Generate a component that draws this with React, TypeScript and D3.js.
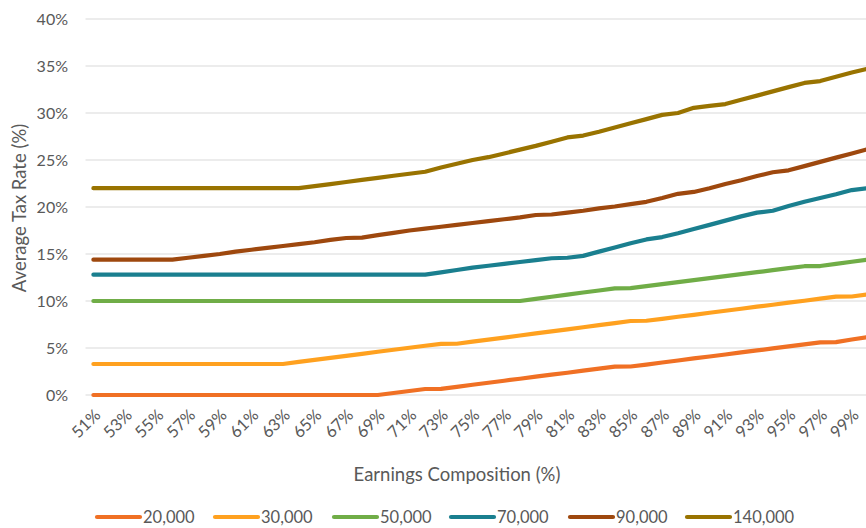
import React, { useEffect, useRef } from 'react';
import * as d3 from 'd3';

// earnings composition (%), one point per category
const categories = [
    51, 52, 53, 54, 55, 56, 57, 58, 59, 60, 61, 62, 63, 64, 65, 66, 67, 68, 69, 70,
    71, 72, 73, 74, 75, 76, 77, 78, 79, 80, 81, 82, 83, 84, 85, 86, 87, 88, 89, 90,
    91, 92, 93, 94, 95, 96, 97, 98, 99, 100,
];

// average tax rate (%) per income level
const s20000 = [
    0, 0, 0, 0, 0, 0, 0, 0, 0, 0, 0, 0, 0, 0, 0, 0, 0, 0, 0, 0.21,
    0.43, 0.64, 0.66, 0.87, 1.09, 1.3, 1.52, 1.73, 1.95, 2.16, 2.37, 2.59, 2.8, 3.01, 3.03, 3.24, 3.46, 3.67, 3.89, 4.1,
    4.31, 4.53, 4.74, 4.96, 5.17, 5.39, 5.6, 5.62, 5.9, 6.15,
];
const s30000 = [
    3.3, 3.3, 3.3, 3.3, 3.3, 3.3, 3.3, 3.3, 3.3, 3.3, 3.3, 3.3, 3.3, 3.52, 3.73, 3.95, 4.16, 4.38, 4.6, 4.81,
    5.03, 5.24, 5.43, 5.45, 5.67, 5.89, 6.11, 6.33, 6.55, 6.77, 6.99, 7.21, 7.43, 7.65, 7.87, 7.9, 8.1, 8.32, 8.53, 8.75,
    8.96, 9.18, 9.4, 9.6, 9.82, 10.03, 10.25, 10.46, 10.48, 10.7,
];
const s50000 = [
    10, 10, 10, 10, 10, 10, 10, 10, 10, 10, 10, 10, 10, 10, 10, 10, 10, 10, 10, 10,
    10, 10, 10, 10, 10, 10, 10, 10, 10.22, 10.45, 10.67, 10.9, 11.12, 11.35, 11.37, 11.58, 11.8, 12.0, 12.22, 12.43,
    12.65, 12.86, 13.07, 13.28, 13.5, 13.7, 13.72, 13.95, 14.18, 14.4,
];
const s70000 = [
    12.8, 12.8, 12.8, 12.8, 12.8, 12.8, 12.8, 12.8, 12.8, 12.8, 12.8, 12.8, 12.8, 12.8, 12.8, 12.8, 12.8, 12.8, 12.8, 12.8,
    12.8, 12.8, 13.05, 13.3, 13.55, 13.75, 13.95, 14.15, 14.35, 14.55, 14.6, 14.8, 15.25, 15.7, 16.15, 16.55, 16.8, 17.2, 17.65, 18.1,
    18.55, 19.0, 19.4, 19.6, 20.1, 20.55, 20.95, 21.35, 21.8, 22.0,
];
const s90000 = [
    14.4, 14.4, 14.4, 14.4, 14.4, 14.4, 14.6, 14.8, 15.0, 15.25, 15.45, 15.65, 15.85, 16.05, 16.25, 16.5, 16.7, 16.75, 17.0, 17.25,
    17.5, 17.7, 17.9, 18.1, 18.3, 18.5, 18.7, 18.9, 19.15, 19.2, 19.4, 19.6, 19.85, 20.05, 20.3, 20.55, 20.95, 21.4, 21.6, 22.0,
    22.45, 22.85, 23.3, 23.7, 23.9, 24.35, 24.8, 25.25, 25.7, 26.15,
];
const s140000 = [
    22, 22, 22, 22, 22, 22, 22, 22, 22, 22, 22, 22, 22, 22, 22.22, 22.44, 22.66, 22.88, 23.1, 23.32,
    23.54, 23.75, 24.2, 24.6, 25.0, 25.3, 25.7, 26.1, 26.5, 26.95, 27.4, 27.6, 28.0, 28.45, 28.9, 29.35, 29.8, 30.0, 30.55, 30.75,
    30.95, 31.4, 31.85, 32.3, 32.75, 33.2, 33.4, 33.85, 34.3, 34.7,
];

const seriesNames = ['20,000', '30,000', '50,000', '70,000', '90,000', '140,000'];
const seriesValues = [s20000, s30000, s50000, s70000, s90000, s140000];
const colors = ['#F07024', '#FFA11F', '#70AD47', '#1A7F8F', '#9E480E', '#997300'];

const yTicks = [0, 5, 10, 15, 20, 25, 30, 35, 40];

const App: React.FC = () => {
    const ref = useRef<SVGSVGElement>(null);
    const width = 866;
    const height = 528;

    useEffect(() => {
        if (!ref.current) return;
        const svg = d3.select(ref.current);
        svg.selectAll('*').remove();

        const plotLeft = 85.5;
        const step = 15.8;
        const x = d3
            .scaleBand<number>()
            .domain(categories)
            .range([plotLeft, plotLeft + step * categories.length]);
        const cx = (c: number) => (x(c) ?? 0) + x.bandwidth() / 2;

        const y = d3.scaleLinear().domain([0, 40]).range([395, 19]);

        const font = 'Lato, "Open Sans", sans-serif';
        const textColor = '#595959';

        // gridlines
        svg.append('g')
            .selectAll('line')
            .data(yTicks)
            .enter()
            .append('line')
            .attr('x1', plotLeft)
            .attr('x2', plotLeft + step * categories.length)
            .attr('y1', (d) => y(d))
            .attr('y2', (d) => y(d))
            .attr('stroke', '#d9d9d9')
            .attr('stroke-width', 1);

        // y tick labels
        svg.append('g')
            .selectAll('text')
            .data(yTicks)
            .enter()
            .append('text')
            .attr('x', 68)
            .attr('y', (d) => y(d))
            .attr('dy', '0.35em')
            .attr('text-anchor', 'end')
            .attr('font-family', font)
            .attr('font-size', 16)
            .attr('fill', textColor)
            .text((d) => `${d}%`);

        // x tick labels, every other category
        const xLabels = categories.filter((_, i) => i % 2 === 0);
        svg.append('g')
            .selectAll('text')
            .data(xLabels)
            .enter()
            .append('text')
            .attr('transform', (d) => `translate(${cx(d) + 4},${412}) rotate(-45)`)
            .attr('text-anchor', 'end')
            .attr('dy', '0.35em')
            .attr('font-family', font)
            .attr('font-size', 16.5)
            .attr('fill', textColor)
            .text((d) => `${d}%`);

        // axis titles
        svg.append('text')
            .attr('x', 457)
            .attr('y', 475)
            .attr('dy', '0.35em')
            .attr('text-anchor', 'middle')
            .attr('font-family', font)
            .attr('font-size', 18.5)
            .attr('fill', textColor)
            .text('Earnings Composition (%)');

        svg.append('text')
            .attr('transform', 'translate(20,208) rotate(-90)')
            .attr('dy', '0.35em')
            .attr('text-anchor', 'middle')
            .attr('font-family', font)
            .attr('font-size', 18.5)
            .attr('fill', textColor)
            .text('Average Tax Rate (%)');

        // lines
        const line = d3
            .line<number>()
            .x((_, i) => cx(categories[i]))
            .y((d) => y(d));

        seriesValues.forEach((vals, i) => {
            svg.append('path')
                .datum(vals)
                .attr('fill', 'none')
                .attr('stroke', colors[i])
                .attr('stroke-width', 4.2)
                .attr('stroke-linecap', 'round')
                .attr('stroke-linejoin', 'round')
                .attr('d', line);
        });

        // legend
        const legendX = [97, 215, 334, 451, 570, 687];
        const legend = svg
            .selectAll('.legend')
            .data(seriesNames)
            .enter()
            .append('g')
            .attr('class', 'legend')
            .attr('transform', (_, i) => `translate(${legendX[i]},517)`);

        legend
            .append('line')
            .attr('x1', 0)
            .attr('x2', 43)
            .attr('stroke', (_, i) => colors[i])
            .attr('stroke-width', 4.2)
            .attr('stroke-linecap', 'round');

        legend
            .append('text')
            .attr('x', 46)
            .attr('dy', '0.35em')
            .attr('font-family', font)
            .attr('font-size', 16.5)
            .attr('fill', textColor)
            .text((d) => d);
    }, []);

    return (
        <svg
            ref={ref}
            width={width}
            height={height}
            style={{ position: 'absolute', left: 0, top: 0, background: '#fff' }}
        />
    );
};

export default App;
